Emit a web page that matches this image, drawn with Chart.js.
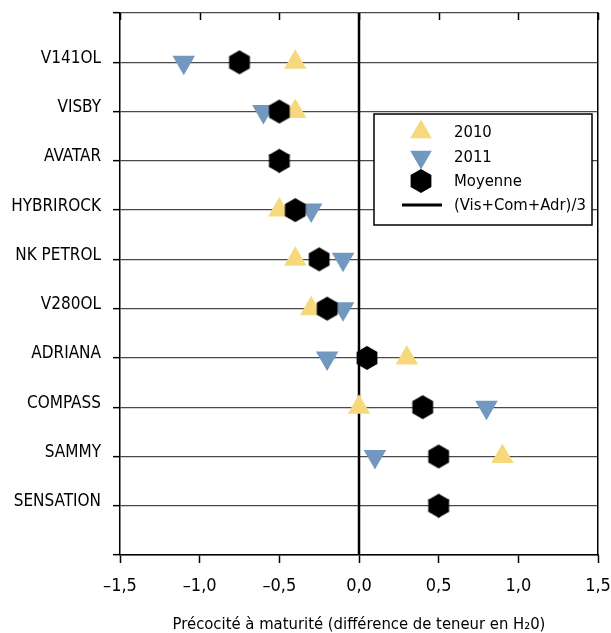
<!DOCTYPE html>
<html>
<head>
<meta charset="utf-8">
<script src="https://cdn.jsdelivr.net/npm/chart.js@4.4.1/dist/chart.umd.min.js"></script>
<style>
  body { margin: 0; background: #fff; }
  #wrap { width: 611px; height: 633px; }
</style>
</head>
<body>
<div id="wrap"><canvas id="chart" width="611" height="633"></canvas></div>
<script>
// varieties, top to bottom
const categories = ['V141OL', 'VISBY', 'AVATAR', 'HYBRIROCK', 'NK PETROL', 'V280OL', 'ADRIANA', 'COMPASS', 'SAMMY', 'SENSATION'];
const values2010 = [-0.4, -0.4, -0.5, -0.5, -0.4, -0.3, 0.3, 0.0, 0.9, 0.5];
const values2011 = [-1.1, -0.6, -0.5, -0.3, -0.1, -0.1, -0.2, 0.8, 0.1, 0.5];
const moyenne = [-0.75, -0.5, -0.5, -0.4, -0.25, -0.2, 0.05, 0.4, 0.5, 0.5];
const refValue = 0.0; // (Vis+Com+Adr)/3
const xTickValues = [-1.5, -1.0, -0.5, 0.0, 0.5, 1.0, 1.5];
const xTickLabels = ['–1,5', '–1,0', '–0,5', '0,0', '0,5', '1,0', '1,5'];
const legendLabels = ['2010', '2011', 'Moyenne', '(Vis+Com+Adr)/3'];
const xTitle = 'Précocité à maturité (différence de teneur en H₂0)';

const FONT = "'Liberation Sans Narrow', 'DejaVu Sans Condensed', 'Liberation Sans', sans-serif";
const YELLOW = '#f6d97c';
const BLUE = '#7298bf';

// hexagon marker (no built-in style for it)
function makeHexagon(R) {
    const c = document.createElement('canvas');
    const size = Math.ceil(R * 2) + 2;
    c.width = size; c.height = size;
    const g = c.getContext('2d');
    g.beginPath();
    for (let i = 0; i < 6; i++) {
        const a = Math.PI / 2 + i * Math.PI / 3;
        const px = size / 2 + R * Math.cos(a);
        const py = size / 2 - R * Math.sin(a);
        if (i === 0) g.moveTo(px, py); else g.lineTo(px, py);
    }
    g.closePath();
    g.fillStyle = '#000';
    g.fill();
    return c;
}
const hexagon = makeHexagon(12);

const toPoints = arr => arr.map((v, i) => ({ x: v, y: i + 1 }));

// small ticks hanging from the top edge + legend box
const extrasPlugin = {
    id: 'extras',
    afterDraw(chart) {
        const ctx = chart.ctx;
        const area = chart.chartArea;
        const xs = chart.scales.x;
        ctx.save();
        ctx.strokeStyle = '#000';
        ctx.lineWidth = 1.5;
        xTickValues.forEach(v => {
            const px = Math.round(xs.getPixelForValue(v)) + 0.5;
            ctx.beginPath();
            ctx.moveTo(px, area.top);
            ctx.lineTo(px, area.top + 7);
            ctx.stroke();
        });

        // legend
        const bx = 374, by = 114, bw = 218, bh = 111;
        ctx.fillStyle = '#fff';
        ctx.fillRect(bx, by, bw, bh);
        ctx.strokeStyle = '#000';
        ctx.lineWidth = 1.5;
        ctx.strokeRect(bx, by, bw, bh);

        const symX = 421, textX = 454;
        const rows = [132, 157, 181, 205];
        ctx.fillStyle = YELLOW;
        Chart.helpers.drawPoint(ctx, { pointStyle: 'triangle', radius: 12.5, rotation: 0, borderWidth: 0 }, symX, rows[0]);
        ctx.fillStyle = BLUE;
        Chart.helpers.drawPoint(ctx, { pointStyle: 'triangle', radius: 12.5, rotation: 180, borderWidth: 0 }, symX, rows[1]);
        ctx.drawImage(hexagon, symX - hexagon.width / 2, rows[2] - hexagon.height / 2);
        ctx.strokeStyle = '#000';
        ctx.lineWidth = 3;
        ctx.beginPath();
        ctx.moveTo(402, rows[3]);
        ctx.lineTo(442, rows[3]);
        ctx.stroke();

        ctx.fillStyle = '#000';
        ctx.font = '16.5px ' + FONT;
        ctx.textBaseline = 'middle';
        ctx.textAlign = 'left';
        legendLabels.forEach((t, i) => ctx.fillText(t, textX, rows[i] + 1));
        ctx.restore();
    }
};

new Chart(document.getElementById('chart'), {
    type: 'scatter',
    data: {
        datasets: [
            {
                label: legendLabels[2],
                data: toPoints(moyenne),
                pointStyle: hexagon,
                pointRadius: 12,
                order: 0
            },
            {
                label: legendLabels[1],
                data: toPoints(values2011),
                pointStyle: 'triangle',
                pointRotation: 180,
                pointRadius: 13,
                pointBorderWidth: 0,
                backgroundColor: BLUE,
                borderColor: BLUE,
                order: 1
            },
            {
                label: legendLabels[0],
                data: toPoints(values2010),
                pointStyle: 'triangle',
                pointRadius: 13,
                pointBorderWidth: 0,
                backgroundColor: YELLOW,
                borderColor: YELLOW,
                order: 2
            },
            {
                label: legendLabels[3],
                data: [{ x: refValue, y: 0 }, { x: refValue, y: categories.length + 1 }],
                showLine: true,
                borderColor: '#000',
                borderWidth: 2.5,
                pointRadius: 0,
                order: 3
            }
        ]
    },
    options: {
        responsive: false,
        animation: false,
        layout: { padding: { top: 11, left: 0, right: 0, bottom: 0 } },
        plugins: {
            legend: { display: false },
            tooltip: { enabled: false }
        },
        scales: {
            x: {
                type: 'linear',
                min: -1.5,
                max: 1.5,
                afterBuildTicks: scale => { scale.ticks = xTickValues.map(v => ({ value: v })); },
                afterFit: scale => {
                    scale.height = 78;
                    scale.paddingLeft = 0;
                    scale.paddingRight = 0;
                },
                ticks: {
                    color: '#000',
                    font: { family: FONT, size: 18 },
                    padding: 13,
                    maxRotation: 0,
                    callback: (v, i) => xTickLabels[i]
                },
                grid: { drawOnChartArea: false, tickLength: 8, tickColor: '#000', tickWidth: 1.5 },
                border: { color: '#000', width: 1.5 },
                title: {
                    display: true,
                    text: xTitle,
                    color: '#000',
                    font: { family: FONT, size: 16.5, lineHeight: 1 },
                    padding: { top: 0, bottom: 0 }
                }
            },
            y: {
                type: 'linear',
                reverse: true,
                min: 0,
                max: categories.length + 1,
                afterBuildTicks: scale => {
                    const t = [];
                    for (let i = 0; i <= categories.length + 1; i++) t.push({ value: i });
                    scale.ticks = t;
                },
                afterFit: scale => {
                    scale.width = 120;
                    scale.paddingTop = 0;
                    scale.paddingBottom = 0;
                },
                ticks: {
                    color: '#000',
                    font: { family: FONT, size: 17 },
                    padding: 12,
                    labelOffset: -4,
                    autoSkip: false,
                    callback: v => categories[v - 1] || ''
                },
                grid: { color: '#4a4a4a', lineWidth: 1.3, tickLength: 7, tickColor: '#000', tickWidth: 1.5 },
                border: { color: '#000', width: 1.5 }
            },
            yRight: {
                type: 'linear',
                position: 'right',
                reverse: true,
                min: 0,
                max: categories.length + 1,
                afterFit: scale => { scale.width = 11; },
                ticks: { display: false },
                grid: { display: false },
                border: { display: true, color: '#000', width: 1.5 }
            }
        }
    },
    plugins: [extrasPlugin]
});
</script>
</body>
</html>
